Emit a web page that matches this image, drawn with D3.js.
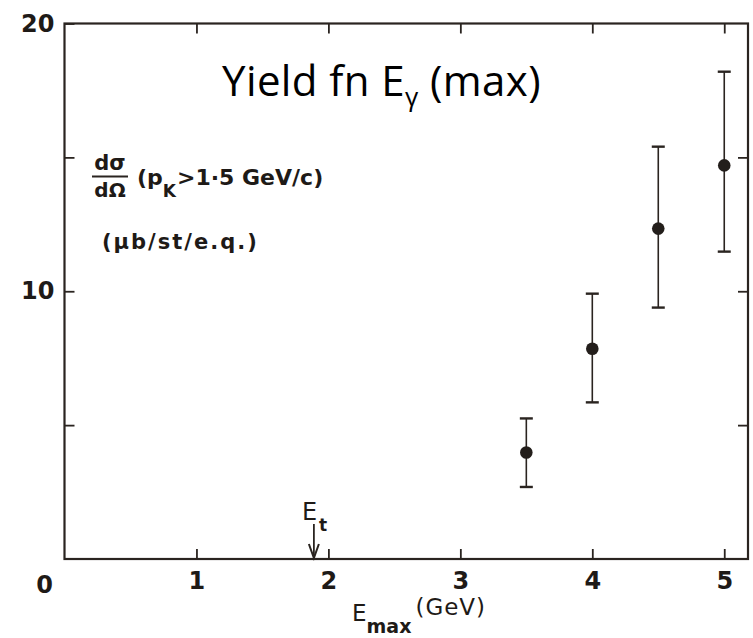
<!DOCTYPE html>
<html>
<head>
<meta charset="utf-8">
<script src="https://cdn.jsdelivr.net/npm/d3@7"></script>
<style>
  html, body { margin: 0; padding: 0; background: #ffffff; }
  svg { display: block; }
</style>
</head>
<body>
<script>
// Photoproduction yield vs. maximum bremsstrahlung energy
const xTickValues = [1, 2, 3, 4, 5];
const xTopTicks = [1, 2, 3, 4, 5];
const ySideTicks = [5, 10, 15];
const yLabelled = [10, 20];
const energyMax = [3.5, 4.0, 4.5, 5.0];          // GeV
const crossSection = [3.98, 7.85, 12.34, 14.7];  // µb/sr/e.q.
const errUpper = [5.25, 9.91, 15.4, 18.2];
const errLower = [2.69, 5.85, 9.39, 11.48];
const thresholdEnergy = 1.89;                    // E_t

const W = 753, H = 638;
const ink = "#2a2420";
const textInk = "#1e1a17";
const labelFont = "'DejaVu Sans', sans-serif";

const svg = d3.select("body").append("svg")
  .attr("width", W).attr("height", H);

const x = d3.scaleLinear().domain([0, 5.18]).range([64.5, 748]);
const y = d3.scaleLinear().domain([0, 20]).range([559, 23.5]);

// frame
svg.append("rect")
  .attr("x", x(0)).attr("y", y(20))
  .attr("width", x(5.18) - x(0)).attr("height", y(0) - y(20))
  .attr("fill", "none").attr("stroke", ink).attr("stroke-width", 2.2);

function styleAxis(g) {
  g.select(".domain").remove();
  g.selectAll(".tick line").attr("stroke", ink).attr("stroke-width", 1.8);
  g.selectAll(".tick text")
    .attr("fill", textInk)
    .style("font-family", labelFont)
    .style("font-size", "24px")
    .style("font-weight", "bold");
}

// bottom axis, ticks pointing inward
svg.append("g")
  .attr("transform", `translate(0,${y(0)})`)
  .call(d3.axisBottom(x).tickValues(xTickValues).tickSizeInner(-10).tickSizeOuter(0)
    .tickPadding(13).tickFormat(d3.format("d")))
  .call(styleAxis);

// origin label sits left of the corner
svg.append("text")
  .attr("x", x(0) - 20).attr("y", y(0) + 34)
  .attr("text-anchor", "middle")
  .attr("fill", textInk)
  .style("font-family", labelFont).style("font-size", "24px").style("font-weight", "bold")
  .text("0");

// top axis ticks
svg.append("g")
  .attr("transform", `translate(0,${y(20)})`)
  .call(d3.axisTop(x).tickValues(xTopTicks).tickSizeInner(-10).tickSizeOuter(0).tickFormat(""))
  .call(styleAxis);

// left axis
svg.append("g")
  .attr("transform", `translate(${x(0)},0)`)
  .call(d3.axisLeft(y).tickValues(ySideTicks.concat([20])).tickSizeInner(-10).tickSizeOuter(0)
    .tickPadding(10)
    .tickFormat(d => yLabelled.includes(d) ? d3.format("d")(d) : ""))
  .call(styleAxis);

// right axis ticks
svg.append("g")
  .attr("transform", `translate(${x(5.18)},0)`)
  .call(d3.axisRight(y).tickValues(ySideTicks).tickSizeInner(-10).tickSizeOuter(0).tickFormat(""))
  .call(styleAxis);

// error bars
const pts = energyMax.map((e, i) => ({ e, v: crossSection[i], hi: errUpper[i], lo: errLower[i] }));
const capHalf = 6.5;
const bars = svg.append("g").attr("stroke", ink).attr("stroke-width", 1.6);
bars.selectAll("line.stem").data(pts).join("line")
  .attr("class", "stem")
  .attr("x1", d => x(d.e)).attr("x2", d => x(d.e))
  .attr("y1", d => y(d.hi)).attr("y2", d => y(d.lo));
bars.selectAll("line.capHi").data(pts).join("line")
  .attr("class", "capHi").attr("stroke-width", 2.4)
  .attr("x1", d => x(d.e) - capHalf).attr("x2", d => x(d.e) + capHalf)
  .attr("y1", d => y(d.hi)).attr("y2", d => y(d.hi));
bars.selectAll("line.capLo").data(pts).join("line")
  .attr("class", "capLo").attr("stroke-width", 2.4)
  .attr("x1", d => x(d.e) - capHalf).attr("x2", d => x(d.e) + capHalf)
  .attr("y1", d => y(d.lo)).attr("y2", d => y(d.lo));

// data points
svg.append("g").selectAll("circle").data(pts).join("circle")
  .attr("cx", d => x(d.e)).attr("cy", d => y(d.v))
  .attr("r", 6.3).attr("fill", "#231e1b");

// threshold arrow E_t
const ax = x(thresholdEnergy);
svg.append("line")
  .attr("x1", ax).attr("x2", ax).attr("y1", y(0) - 35).attr("y2", y(0) - 1)
  .attr("stroke", ink).attr("stroke-width", 1.8);
svg.append("path")
  .attr("d", `M${ax - 5},${y(0) - 15} L${ax},${y(0) - 1} L${ax + 5},${y(0) - 15}`)
  .attr("fill", "none").attr("stroke", ink).attr("stroke-width", 2);
const et = svg.append("text")
  .attr("x", ax - 12).attr("y", y(0) - 39)
  .attr("fill", textInk)
  .style("font-family", labelFont).style("font-size", "24px");
et.append("tspan").text("E");
et.append("tspan").attr("dy", 11).attr("dx", 2).style("font-size", "17px").style("font-weight", "bold").text("t");

// x-axis title
const xt = svg.append("text")
  .attr("x", 352).attr("y", 621)
  .attr("fill", textInk)
  .style("font-family", labelFont).style("font-size", "23px");
xt.append("tspan").text("E");
xt.append("tspan").attr("dy", 12).style("font-size", "19px").style("font-weight", "bold").text("max");
xt.append("tspan").attr("dy", -18).attr("dx", 4).style("letter-spacing", "1px").text("(GeV)");

// y quantity annotation: dσ/dΩ fraction
const fx = 110;
svg.append("text")
  .attr("x", fx).attr("y", 170).attr("text-anchor", "middle")
  .attr("fill", textInk)
  .style("font-family", labelFont).style("font-size", "21px").style("font-weight", "bold")
  .text("dσ");
svg.append("line")
  .attr("x1", fx - 18).attr("x2", fx + 18).attr("y1", 176.5).attr("y2", 176.5)
  .attr("stroke", ink).attr("stroke-width", 1.8);
svg.append("text")
  .attr("x", fx).attr("y", 197).attr("text-anchor", "middle")
  .attr("fill", textInk)
  .style("font-family", labelFont).style("font-size", "20px").style("font-weight", "bold")
  .text("dΩ");

const pk = svg.append("text")
  .attr("x", 137).attr("y", 185)
  .attr("fill", textInk)
  .style("font-family", labelFont).style("font-size", "22px").style("font-weight", "bold");
pk.append("tspan").text("(p");
pk.append("tspan").attr("dy", 12).style("font-size", "17px").text("K");
pk.append("tspan").attr("dy", -12).attr("dx", 1).text(">1·5 GeV/c)");

svg.append("text")
  .attr("x", 102).attr("y", 249)
  .attr("fill", textInk)
  .style("font-family", labelFont).style("font-size", "21px").style("font-weight", "bold")
  .style("letter-spacing", "2px")
  .text("(μb/st/e.q.)");

// title
const title = svg.append("text")
  .attr("x", 222).attr("y", 96)
  .attr("fill", "#000")
  .style("font-family", "'Open Sans', sans-serif").style("font-size", "42px")
  .style("letter-spacing", "0.4px");
title.append("tspan").text("Yield fn E");
title.append("tspan").attr("dy", 10).style("font-size", "26px").text("γ");
title.append("tspan").attr("dy", -10).text(" (max)");
</script>
</body>
</html>
